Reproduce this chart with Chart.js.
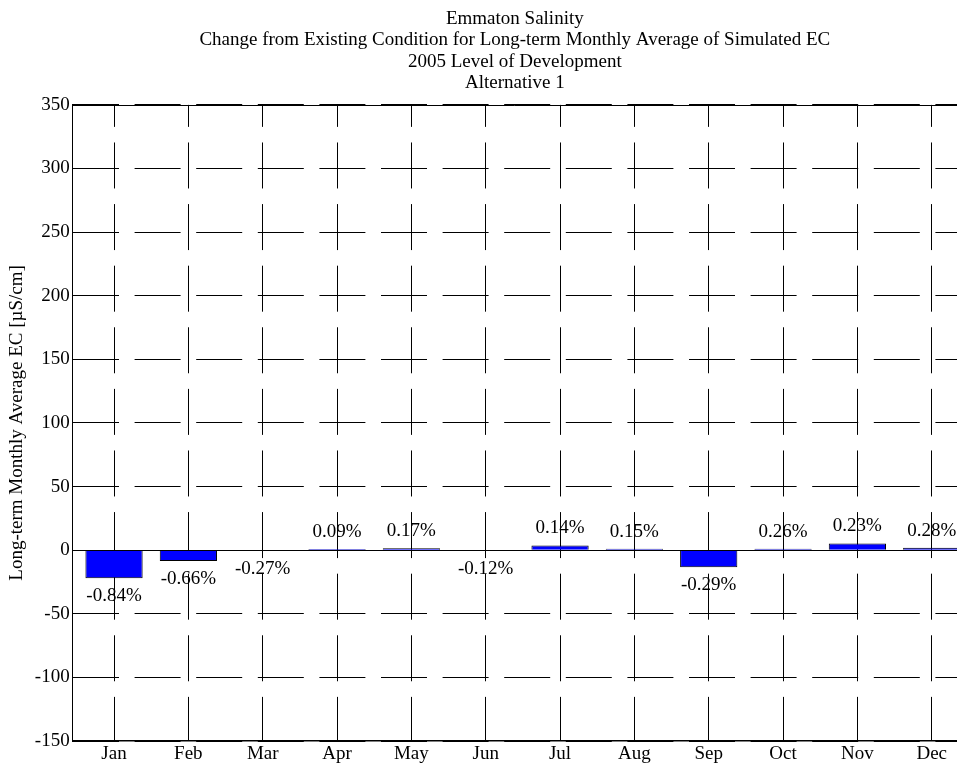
<!DOCTYPE html>
<html>
<head>
<meta charset="utf-8">
<title>Emmaton Salinity</title>
<script src="https://cdn.jsdelivr.net/npm/chart.js@4.4.1/dist/chart.umd.min.js"></script>
<style>
    html, body { margin: 0; padding: 0; background: #fff; }
    #chart { display: block; }
</style>
</head>
<body>
<canvas id="chart" width="957" height="768"></canvas>
<script>
// Chart data
const months = ['Jan', 'Feb', 'Mar', 'Apr', 'May', 'Jun', 'Jul', 'Aug', 'Sep', 'Oct', 'Nov', 'Dec'];
const changes = [-22, -8.5, -0.6, 0.9, 1.6, -0.5, 3.7, 1.2, -13.5, 1.2, 5.3, 1.8];
const pctLabels = ['-0.84%', '-0.66%', '-0.27%', '0.09%', '0.17%', '-0.12%', '0.14%', '0.15%', '-0.29%', '0.26%', '0.23%', '0.28%'];
const titleLines = [
    'Emmaton Salinity',
    'Change from Existing Condition for Long-term Monthly Average of Simulated EC',
    '2005 Level of Development',
    'Alternative 1'
];
const yLabel = 'Long-term Monthly Average EC [µS/cm]';

const serif = '"Liberation Serif", "Times New Roman", serif';
const baseFont = { family: serif, size: 19, weight: 'normal' };

// Zero baseline, top box edge and the percent labels
const extras = {
    id: 'extras',
    afterDatasetsDraw(chart) {
        const ctx = chart.ctx;
        const area = chart.chartArea;
        const y0 = Math.round(chart.scales.y.getPixelForValue(0)) + 0.5;

        ctx.save();
        ctx.strokeStyle = '#000';
        ctx.lineWidth = 1;
        ctx.beginPath();
        ctx.moveTo(area.left, y0);
        ctx.lineTo(area.right, y0);
        ctx.moveTo(area.left, Math.round(area.top) + 0.5);
        ctx.lineTo(area.right, Math.round(area.top) + 0.5);
        ctx.stroke();

        ctx.fillStyle = '#000';
        ctx.font = '19px ' + serif;
        ctx.textAlign = 'center';
        ctx.textBaseline = 'middle';
        chart.getDatasetMeta(0).data.forEach((bar, i) => {
            const ty = changes[i] >= 0 ? bar.y - 17 : bar.y + 18;
            ctx.fillText(pctLabels[i], bar.x, ty);
        });
        ctx.restore();
    }
};

new Chart(document.getElementById('chart'), {
    type: 'bar',
    data: {
        datasets: [{
            data: changes.map((v, i) => ({ x: i + 1, y: v })),
            backgroundColor: '#0000ff',
            borderColor: '#000',
            borderWidth: 1,
            barPercentage: 0.77,
            categoryPercentage: 1
        }]
    },
    options: {
        responsive: false,
        animation: false,
        devicePixelRatio: 1,
        layout: { padding: 0 },
        plugins: {
            legend: { display: false },
            tooltip: { enabled: false },
            title: {
                display: true,
                text: titleLines,
                color: '#000',
                fullSize: false,
                font: { family: serif, size: 19, weight: 'normal', lineHeight: 1.13 },
                padding: { top: 8, bottom: 11 }
            }
        },
        scales: {
            x: {
                type: 'linear',
                offset: false,
                min: 0.443,
                max: 12.34,
                afterBuildTicks: (scale) => {
                    scale.ticks = months.map((m, i) => ({ value: i + 1 }));
                },
                ticks: {
                    callback: (v, i) => months[i],
                    font: { family: serif, size: 19, weight: 'normal', lineHeight: 1 },
                    color: '#000',
                    padding: 4,
                    autoSkip: false,
                    maxRotation: 0
                },
                grid: { offset: false, color: '#000', lineWidth: 1, drawTicks: false },
                border: { display: true, color: '#000', width: 1.5, dash: [46, 15.6], dashOffset: 24 }
            },
            y: {
                min: -150,
                max: 350,
                ticks: {
                    stepSize: 50,
                    font: baseFont,
                    color: '#000',
                    padding: 3
                },
                grid: { color: '#000', lineWidth: 1, drawTicks: false },
                border: { display: true, color: '#000', width: 1, dash: [46, 15.6] },
                title: {
                    display: true,
                    text: yLabel,
                    color: '#000',
                    font: baseFont,
                    padding: { top: 6, bottom: 3 }
                }
            }
        }
    },
    plugins: [extras]
});
</script>
</body>
</html>
